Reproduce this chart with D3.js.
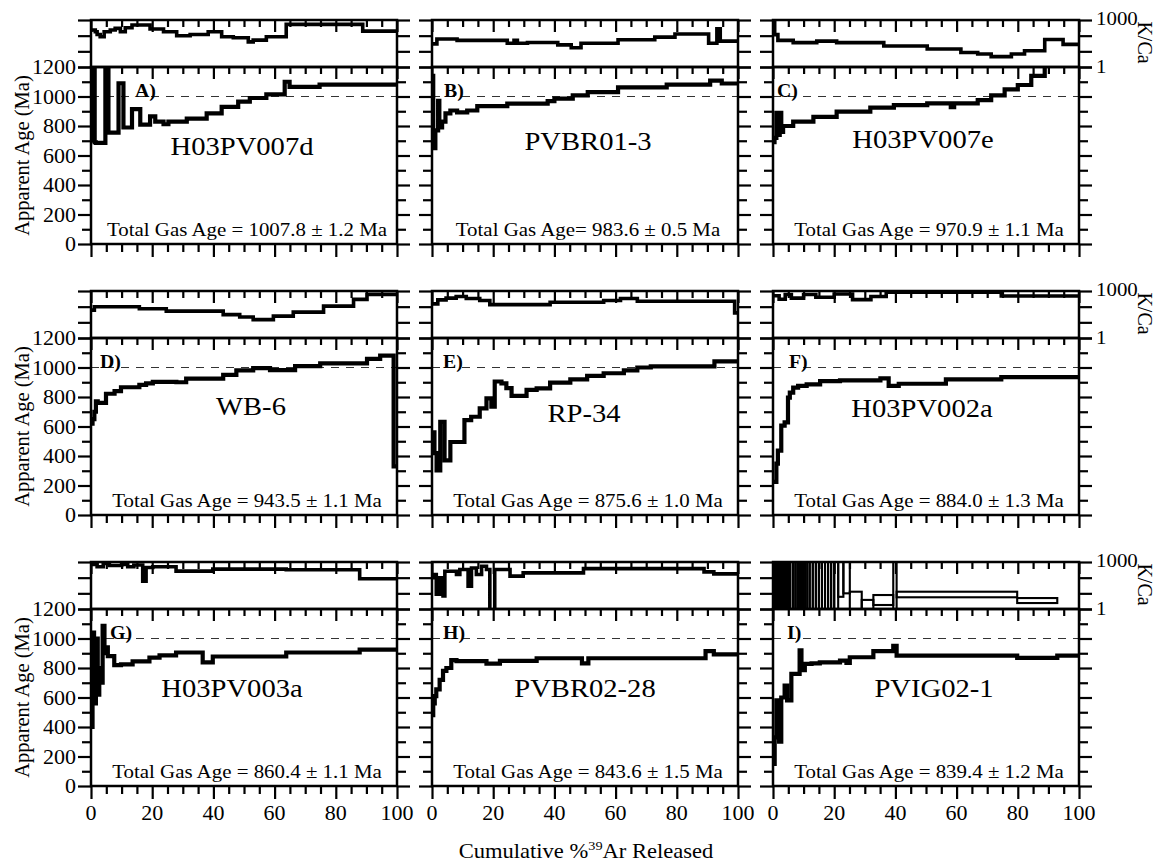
<!DOCTYPE html>
<html>
<head>
<meta charset="utf-8">
<script src="https://cdn.jsdelivr.net/npm/d3@7"></script>
<style>
  body { margin: 0; background: #fff; }
  svg { display: block; }
  svg text { font-family: "Liberation Serif", "Times New Roman", Times, "DejaVu Serif", serif; fill: #000; }
</style>
</head>
<body>
<svg id="chart" width="1163" height="867"></svg>
<script>
// ---- Axis ticks ----
const ageTicks = [0, 200, 400, 600, 800, 1000, 1200];
const ageMinorTicks = [100, 300, 500, 700, 900, 1100];
const pctTicks = [0, 20, 40, 60, 80, 100];
const pctMinorTicks = [5, 10, 15, 25, 30, 35, 45, 50, 55, 65, 70, 75, 85, 90, 95];
const kcaTicks = [1, 10, 100, 1000];
const refAge = 1000;

// ---- Sample names and total gas ages ----
const panelLetters = ["A)", "B)", "C)", "D)", "E)", "F)", "G)", "H)", "I)"];
const sampleNames = ["H03PV007d", "PVBR01-3", "H03PV007e", "WB-6", "RP-34", "H03PV002a", "H03PV003a", "PVBR02-28", "PVIG02-1"];
const totalGasLabels = [
  "Total Gas Age = 1007.8 \u00B1 1.2 Ma",
  "Total Gas Age= 983.6 \u00B1 0.5 Ma",
  "Total Gas Age = 970.9 \u00B1 1.1 Ma",
  "Total Gas Age = 943.5 \u00B1 1.1 Ma",
  "Total Gas Age = 875.6 \u00B1 1.0 Ma",
  "Total Gas Age = 884.0 \u00B1 1.3 Ma",
  "Total Gas Age = 860.4 \u00B1 1.1 Ma",
  "Total Gas Age = 843.6 \u00B1 1.5 Ma",
  "Total Gas Age = 839.4 \u00B1 1.2 Ma"
];

// ---- Age spectra: cumulative %39Ar step edges and apparent ages (Ma) ----
const cumA = [0, 0.4, 0.8, 1.2, 1.6, 4.7, 5.7, 9.0, 10.6, 13.4, 16.1, 19.3, 21.0, 23.7, 25.3, 31.3, 37.8, 42.7, 48.1, 51.9, 57.3, 63.3, 64.9, 74.7, 100];
const ageA = [1300, 700, 1300, 690, 685, 1300, 755, 1090, 790, 915, 810, 865, 830, 812, 830, 850, 885, 930, 965, 990, 1015, 1100, 1065, 1080];

const cumB = [0, 0.4, 1.1, 2.0, 2.4, 3.3, 4.4, 6.0, 8.2, 11.5, 14.8, 24.6, 37.8, 40.0, 46.0, 50.9, 60.8, 76.7, 90.9, 94.7, 100];
const ageB = [1140, 650, 770, 970, 790, 830, 885, 905, 893, 905, 935, 952, 968, 985, 1008, 1030, 1062, 1080, 1108, 1088];

const cumC = [0, 0.5, 1.1, 1.6, 2.2, 2.7, 3.3, 6.6, 13.2, 20.8, 31.8, 39.5, 50.4, 58.1, 59.2, 66.9, 71.3, 75.7, 80.0, 84.4, 88.8, 92.0, 100];
const ageC = [690, 720, 890, 740, 890, 760, 800, 830, 862, 897, 925, 942, 953, 928, 953, 976, 1008, 1048, 1078, 1140, 1260, 1300];

const cumD = [0, 0.5, 1.1, 1.6, 2.2, 4.9, 7.7, 9.8, 15.8, 18.0, 20.2, 27.9, 31.1, 43.2, 47.5, 53.0, 58.5, 66.7, 74.9, 90.2, 94.5, 98.9, 100];
const ageD = [620, 650, 700, 770, 760, 822, 840, 866, 882, 893, 903, 900, 925, 950, 980, 996, 982, 1010, 1028, 1058, 1080, 330];

const cumE = [0, 0.8, 1.5, 2.7, 4.1, 6.0, 10.6, 12.8, 15.6, 17.8, 19.4, 20.5, 22.7, 24.3, 26.0, 30.9, 34.2, 38.6, 45.2, 50.7, 56.1, 62.7, 67.1, 71.5, 92.3, 100];
const ageE = [560, 420, 302, 632, 370, 495, 643, 666, 723, 791, 734, 905, 893, 860, 807, 848, 859, 898, 920, 943, 961, 980, 1000, 1007, 1041];

const cumF = [0, 1.1, 1.6, 2.7, 3.8, 4.9, 5.5, 6.6, 8.2, 11.0, 15.4, 21.9, 35.1, 37.8, 41.1, 56.5, 74.6, 100];
const ageF = [225, 348, 437, 606, 628, 796, 830, 864, 875, 886, 908, 913, 926, 875, 890, 920, 935];

const cumG = [0, 0.5, 1.0, 1.6, 2.2, 2.7, 3.3, 3.8, 4.4, 5.0, 5.5, 7.6, 9.8, 13.6, 19.1, 22.4, 27.8, 36.5, 39.8, 63.8, 87.8, 100];
const ageG = [400, 1040, 560, 1000, 620, 800, 700, 1085, 900, 940, 880, 820, 825, 845, 870, 885, 905, 838, 878, 905, 925];

const cumH = [0, 0.4, 0.9, 1.4, 2.5, 3.6, 4.7, 6.3, 8.0, 17.8, 22.2, 34.2, 49.0, 51.1, 89.4, 92.1, 100];
const ageH = [480, 560, 610, 655, 720, 780, 800, 853, 846, 830, 848, 866, 832, 866, 914, 892];

const cumI = [0, 0.55, 1.1, 2.0, 2.7, 3.8, 4.6, 6.0, 8.7, 9.3, 10.4, 12.6, 15.3, 21.9, 24.0, 25.1, 32.8, 39.3, 40.4, 79.8, 92.9, 100];
const ageI = [150, 330, 580, 300, 600, 680, 580, 760, 920, 785, 828, 832, 838, 850, 835, 873, 915, 950, 884, 868, 884];

// ---- K/Ca spectra: step edges (%) and K/Ca ratios ----
const kcumA = [0, 1.4, 2.0, 3.0, 4.3, 6.3, 7.9, 9.6, 11.2, 13.4, 19.3, 23.7, 28.0, 32.4, 38.3, 42.7, 46.5, 51.4, 53.0, 57.3, 63.8, 88.8, 100];
const kcaA = [228, 178, 120, 85, 178, 228, 290, 178, 322, 475, 264, 178, 98, 120, 178, 85, 73, 40, 52, 85, 527, 195];

const kcumB = [0, 1.6, 8.2, 24.6, 26.8, 27.9, 31.2, 41.1, 45.5, 48.7, 60.8, 72.8, 79.4, 90.4, 93.1, 94.2, 100];
const kcaB = [30, 61, 50, 33, 50, 33, 37, 26, 17, 33, 55, 81, 129, 33, 272, 45];

const kcumC = [0, 0.55, 1.6, 6.6, 14.3, 20.8, 36.2, 50.4, 61.4, 66.9, 71.3, 77.9, 82.2, 88.8, 94.8, 100];
const kcaC = [800, 117, 50, 36, 45, 36, 22, 14, 8.5, 6.7, 4.6, 6.7, 10.8, 57, 28];

const kcumD = [0, 1.1, 15.8, 24.6, 43.2, 48.6, 53.0, 59.6, 66.1, 76.0, 85.8, 90.2, 100];
const kcaD = [60, 98, 73, 52, 31, 22, 15, 25, 45, 108, 290, 610];

const kcumE = [0, 1.9, 4.6, 7.9, 11.2, 15.6, 18.9, 38.6, 56.1, 61.6, 67.1, 98.9, 100];
const kcaE = [150, 270, 350, 450, 330, 250, 135, 190, 250, 330, 222, 40];

const kcumF = [0, 2, 4, 6, 10, 14, 20, 26, 32, 37, 74.6, 100];
const kcaF = [500, 300, 600, 350, 600, 400, 650, 280, 450, 850, 480];

const kcumG = [0, 2, 4, 6, 10, 12, 14, 16.9, 18.0, 20.2, 27.8, 39.8, 63.8, 87.8, 100];
const kcaG = [700, 500, 800, 600, 700, 500, 650, 60, 450, 500, 260, 350, 320, 85];

const kcumH = [0, 0.3, 1.4, 2.5, 3.6, 4.2, 8.0, 9.1, 11.8, 12.9, 14.5, 16.2, 17.8, 18.9, 20.5, 25.5, 29.8, 49.5, 88.9, 92.1, 100];
const kcaH = [100, 158, 8.8, 98, 6.9, 257, 158, 330, 29, 417, 158, 530, 330, 0.5, 330, 125, 202, 380, 234, 175];

// PVIG02-1 K/Ca is shown as error boxes (low / high K/Ca per step)
const kcumI = [0, 0.5, 1.0, 1.5, 2.0, 2.6, 3.2, 3.8, 4.4, 5.0, 5.6, 6.5, 7.3, 8.0, 8.6, 9.2, 9.8, 10.5, 11.2, 12.0, 13.0, 14.0, 15.0, 16.0, 17.0, 18.0, 19.0, 20.0, 21.3, 23.0, 25.1, 29.0, 32.8, 39.3, 40.4, 79.8, 92.9];
const kcaLoI = [0.5, 0.5, 0.5, 0.5, 0.5, 0.5, 0.5, 0.5, 0.5, 0.5, 0.5, 0.5, 0.5, 0.5, 0.5, 0.5, 0.5, 0.5, 0.5, 0.5, 0.5, 0.5, 0.5, 0.5, 0.5, 0.5, 0.5, 0.5, 6, 10, 0.5, 0.5, 1.8, 0.5, 5.6, 2.4];
const kcaHiI = [2000, 2000, 2000, 2000, 2000, 2000, 2000, 2000, 2000, 2000, 2000, 2000, 2000, 2000, 2000, 2000, 2000, 2000, 2000, 2000, 2000, 2000, 2000, 2000, 2000, 2000, 2000, 2000, 2000, 2000, 12.7, 3.8, 7.8, 2000, 12.7, 5.0];

// ---- Panel table ----
const spectra = [
  { cum: cumA, age: ageA, kcum: kcumA, kca: kcaA },
  { cum: cumB, age: ageB, kcum: kcumB, kca: kcaB },
  { cum: cumC, age: ageC, kcum: kcumC, kca: kcaC },
  { cum: cumD, age: ageD, kcum: kcumD, kca: kcaD },
  { cum: cumE, age: ageE, kcum: kcumE, kca: kcaE },
  { cum: cumF, age: ageF, kcum: kcumF, kca: kcaF },
  { cum: cumG, age: ageG, kcum: kcumG, kca: kcaG },
  { cum: cumH, age: ageH, kcum: kcumH, kca: kcaH },
  { cum: cumI, age: ageI, kcum: kcumI, kcaLo: kcaLoI, kcaHi: kcaHiI }
];

// ---- Layout ----
const FONT = '"Liberation Serif", "Times New Roman", Times, "DejaVu Serif", serif';
const W = 306, KH = 47, AH = 177;
const colX = [91, 432, 773];
const rowY = [20, 291, 562];
const SX = 1.1;            // horizontal glyph stretch used for all upright text
const letterDx = [44, 12, 4, 9, 11, 16, 19, 11, 14];
const nameDx = [-2, 3, -3, 7, -1, -4, -12, 0, 8];
const nameDy = [88, 83, 81, 77, 84, 79, 88, 88, 88];

const svg = d3.select("#chart").attr("font-family", FONT);
svg.append("rect").attr("width", 1163).attr("height", 867).attr("fill", "#fff");

const xs = d3.scaleLinear().domain([0, 100]).range([0, W]);
const ys = d3.scaleLinear().domain([0, 1200]).range([AH, 0]);
const ks = d3.scaleLog().domain([1, 1000]).range([KH, 0]);

function stext(parent, x, y, str, size, anchor, weight) {
  const g = parent.append("g").attr("transform", `translate(${x},${y}) scale(${SX},1)`);
  return g.append("text")
    .attr("font-family", FONT)
    .attr("font-size", size)
    .attr("text-anchor", anchor || "start")
    .attr("font-weight", weight || "normal")
    .text(str);
}

function tickAxis(sel, axis) {
  sel.call(axis);
  sel.select(".domain").remove();
  sel.selectAll(".tick text").remove();
  sel.selectAll(".tick line").attr("stroke", "#000").attr("stroke-width", 2.2);
}

function stepPoints(cum, vals) {
  const n = vals.length;
  return cum.map((c, i) => ({ x: c, v: vals[Math.min(i, n - 1)] }));
}

spectra.forEach((p, i) => {
  const col = i % 3, row = Math.floor(i / 3);
  const g = svg.append("g").attr("transform", `translate(${colX[col]},${rowY[row]})`);
  const kg = g.append("g");
  const ag = g.append("g").attr("transform", `translate(0,${KH})`);

  // clip regions
  const kClip = `kclip${i}`, aClip = `aclip${i}`;
  svg.append("clipPath").attr("id", kClip).append("rect").attr("width", W).attr("height", KH);
  svg.append("clipPath").attr("id", aClip).append("rect").attr("width", W).attr("height", AH);

  // reference age line
  ag.append("line")
    .attr("x1", 0).attr("x2", W)
    .attr("y1", ys(refAge)).attr("y2", ys(refAge))
    .attr("stroke", "#333").attr("stroke-width", 1.2)
    .attr("stroke-dasharray", "8,7");

  // age spectrum
  const ageLine = d3.line()
    .x(d => xs(d.x)).y(d => ys(d.v))
    .curve(d3.curveStepAfter);
  ag.append("g").attr("clip-path", `url(#${aClip})`)
    .append("path")
    .attr("d", ageLine(stepPoints(p.cum, p.age)))
    .attr("fill", "none").attr("stroke", "#000")
    .attr("stroke-width", 4.2).attr("stroke-linejoin", "miter");

  // K/Ca spectrum
  const kcaG = kg.append("g").attr("clip-path", `url(#${kClip})`);
  if (p.kca) {
    const kLine = d3.line()
      .x(d => xs(d.x)).y(d => ks(Math.max(d.v, 0.3)))
      .curve(d3.curveStepAfter);
    kcaG.append("path")
      .attr("d", kLine(stepPoints(p.kcum, p.kca)))
      .attr("fill", "none").attr("stroke", "#000")
      .attr("stroke-width", 3.6);
  } else {
    kcaG.selectAll("rect")
      .data(p.kcaLo.map((lo, j) => ({ x0: p.kcum[j], x1: p.kcum[j + 1], lo, hi: p.kcaHi[j] })))
      .join("rect")
      .attr("x", d => xs(d.x0))
      .attr("width", d => xs(d.x1) - xs(d.x0))
      .attr("y", d => ks(d.hi))
      .attr("height", d => ks(d.lo) - ks(d.hi))
      .attr("fill", "none").attr("stroke", "#000").attr("stroke-width", 2.1);
  }

  // frames
  kg.append("rect").attr("width", W).attr("height", KH)
    .attr("fill", "none").attr("stroke", "#000").attr("stroke-width", 2.5);
  ag.append("rect").attr("width", W).attr("height", AH)
    .attr("fill", "none").attr("stroke", "#000").attr("stroke-width", 2.5);

  // age axis ticks
  tickAxis(ag.append("g"), d3.axisLeft(ys).tickValues(ageTicks).tickSize(13));
  tickAxis(ag.append("g"), d3.axisLeft(ys).tickValues(ageMinorTicks).tickSize(9));
  tickAxis(ag.append("g").attr("transform", `translate(${W},0)`), d3.axisRight(ys).tickValues(ageTicks).tickSize(13));
  tickAxis(ag.append("g").attr("transform", `translate(${W},0)`), d3.axisRight(ys).tickValues(ageMinorTicks).tickSize(9));
  tickAxis(ag.append("g"), d3.axisBottom(xs).tickValues(pctTicks).tickSize(12));
  tickAxis(ag.append("g"), d3.axisBottom(xs).tickValues(pctMinorTicks).tickSize(7));
  tickAxis(ag.append("g").attr("transform", `translate(0,${AH})`), d3.axisBottom(xs).tickValues(pctTicks).tickSize(13));
  tickAxis(ag.append("g").attr("transform", `translate(0,${AH})`), d3.axisBottom(xs).tickValues(pctMinorTicks).tickSize(8));

  // K/Ca axis ticks
  tickAxis(kg.append("g"), d3.axisLeft(ks).tickValues(kcaTicks).tickSize(13));
  tickAxis(kg.append("g").attr("transform", `translate(${W},0)`), d3.axisRight(ks).tickValues(kcaTicks).tickSize(13));
  tickAxis(kg.append("g"), d3.axisBottom(xs).tickValues(pctTicks).tickSize(12));
  tickAxis(kg.append("g"), d3.axisBottom(xs).tickValues(pctMinorTicks).tickSize(7));

  // left tick labels and axis title
  if (col === 0) {
    ageTicks.forEach(v => {
      stext(ag, -15, ys(v) + 7, String(v), 20, "end");
    });
    g.append("text")
      .attr("transform", `translate(-62,${KH + AH / 2}) rotate(-90)`)
      .attr("font-family", FONT)
      .attr("text-anchor", "middle")
      .attr("font-size", 20.5)
      .text("Apparent Age (Ma)");
  }
  // K/Ca labels on the right-hand column
  if (col === 2) {
    stext(kg, W + 17, ks(1000) + 5, "1000", 19, "start");
    stext(kg, W + 17, ks(1) + 6, "1", 19, "start");
    kg.append("text")
      .attr("transform", `translate(${W + 59},${KH / 2 - 1}) rotate(90)`)
      .attr("font-family", FONT)
      .attr("text-anchor", "middle")
      .attr("font-size", 20)
      .text("K/Ca");
  }
  // bottom percentage labels
  if (row === 2) {
    pctTicks.forEach(v => {
      stext(ag, xs(v), AH + 34, String(v), 20, "middle");
    });
  }

  // panel texts
  stext(ag, letterDx[i], 30, panelLetters[i], 18, "start", "bold");
  stext(ag, W / 2 + nameDx[i], nameDy[i], sampleNames[i], 26, "middle");
  stext(ag, W / 2 + 3, AH - 8, totalGasLabels[i], 19, "middle");
});

// shared x-axis title
const xt = svg.append("g").attr("transform", `translate(586,858) scale(${SX},1)`)
  .append("text").attr("font-family", FONT).attr("font-size", 20.5).attr("text-anchor", "middle");
xt.append("tspan").text("Cumulative %");
xt.append("tspan").attr("font-size", 13).attr("dy", -8).text("39");
xt.append("tspan").attr("dy", 8).text("Ar Released");
</script>
</body>
</html>
